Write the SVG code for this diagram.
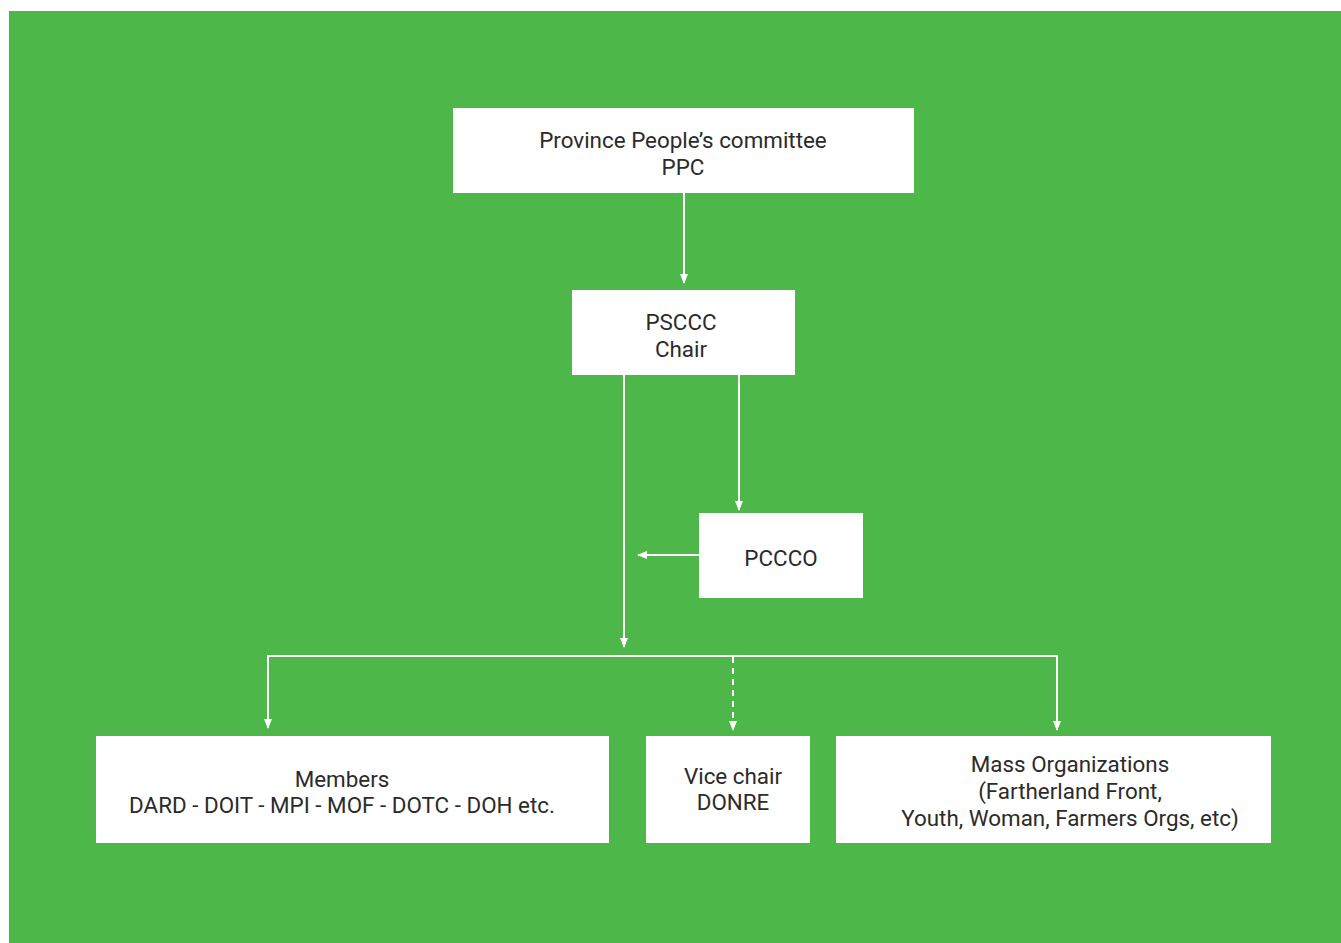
<svg xmlns="http://www.w3.org/2000/svg" width="1341" height="943" viewBox="0 0 1341 943">
<defs>
<marker id="ah" markerWidth="10" markerHeight="10" refX="9" refY="5" orient="auto" markerUnits="userSpaceOnUse">
<path d="M0,1 L10,5 L0,9 Z" fill="#ffffff"/>
</marker>
<style>
.box{fill:#ffffff}
.t{font-family:Roboto,"Liberation Sans",sans-serif;font-size:22.4px;fill:#2b2b2b;text-anchor:middle}
.c{stroke:#ffffff;stroke-width:2;fill:none}
.d{stroke-dasharray:6,5}
</style>
</defs>
<rect x="0" y="0" width="1341" height="943" fill="#ffffff"/>
<rect x="9" y="11" width="1332" height="932" fill="#4db849"/>
<g id="connectors">
<line class="c" x1="684" y1="193" x2="684" y2="283" marker-end="url(#ah)"/>
<line class="c" x1="739" y1="375" x2="739" y2="510" marker-end="url(#ah)"/>
<line class="c" x1="624" y1="375" x2="624" y2="647" marker-end="url(#ah)"/>
<line class="c" x1="699" y1="555" x2="638" y2="555" marker-end="url(#ah)"/>
<polyline class="c" points="268,728 268,656 1057,656 1057,730" marker-end="url(#ah)"/>
<line class="c" x1="268" y1="700" x2="268" y2="728" marker-end="url(#ah)"/>
<line class="c d" x1="733" y1="657" x2="733" y2="730" marker-end="url(#ah)"/>
</g>
<g id="ppc">
<rect class="box" x="453" y="108" width="461" height="85"/>
<text class="t" x="683" y="148">Province People’s committee</text>
<text class="t" x="683" y="175">PPC</text>
</g>
<g id="psccc">
<rect class="box" x="572" y="290" width="223" height="85"/>
<text class="t" x="681" y="330">PSCCC</text>
<text class="t" x="681" y="357">Chair</text>
</g>
<g id="pccco">
<rect class="box" x="699" y="513" width="164" height="85"/>
<text class="t" x="781" y="566">PCCCO</text>
</g>
<g id="members">
<rect class="box" x="96" y="736" width="513" height="107"/>
<text class="t" x="342" y="787">Members</text>
<text class="t" x="342" y="813">DARD - DOIT - MPI - MOF - DOTC - DOH etc.</text>
</g>
<g id="vicechair">
<rect class="box" x="646" y="736" width="164" height="107"/>
<text class="t" x="733" y="784">Vice chair</text>
<text class="t" x="733" y="810">DONRE</text>
</g>
<g id="massorgs">
<rect class="box" x="836" y="736" width="435" height="107"/>
<text class="t" x="1070" y="772">Mass Organizations</text>
<text class="t" x="1070" y="799">(Fartherland Front,</text>
<text class="t" x="1070" y="826">Youth, Woman, Farmers Orgs, etc)</text>
</g>
</svg>
